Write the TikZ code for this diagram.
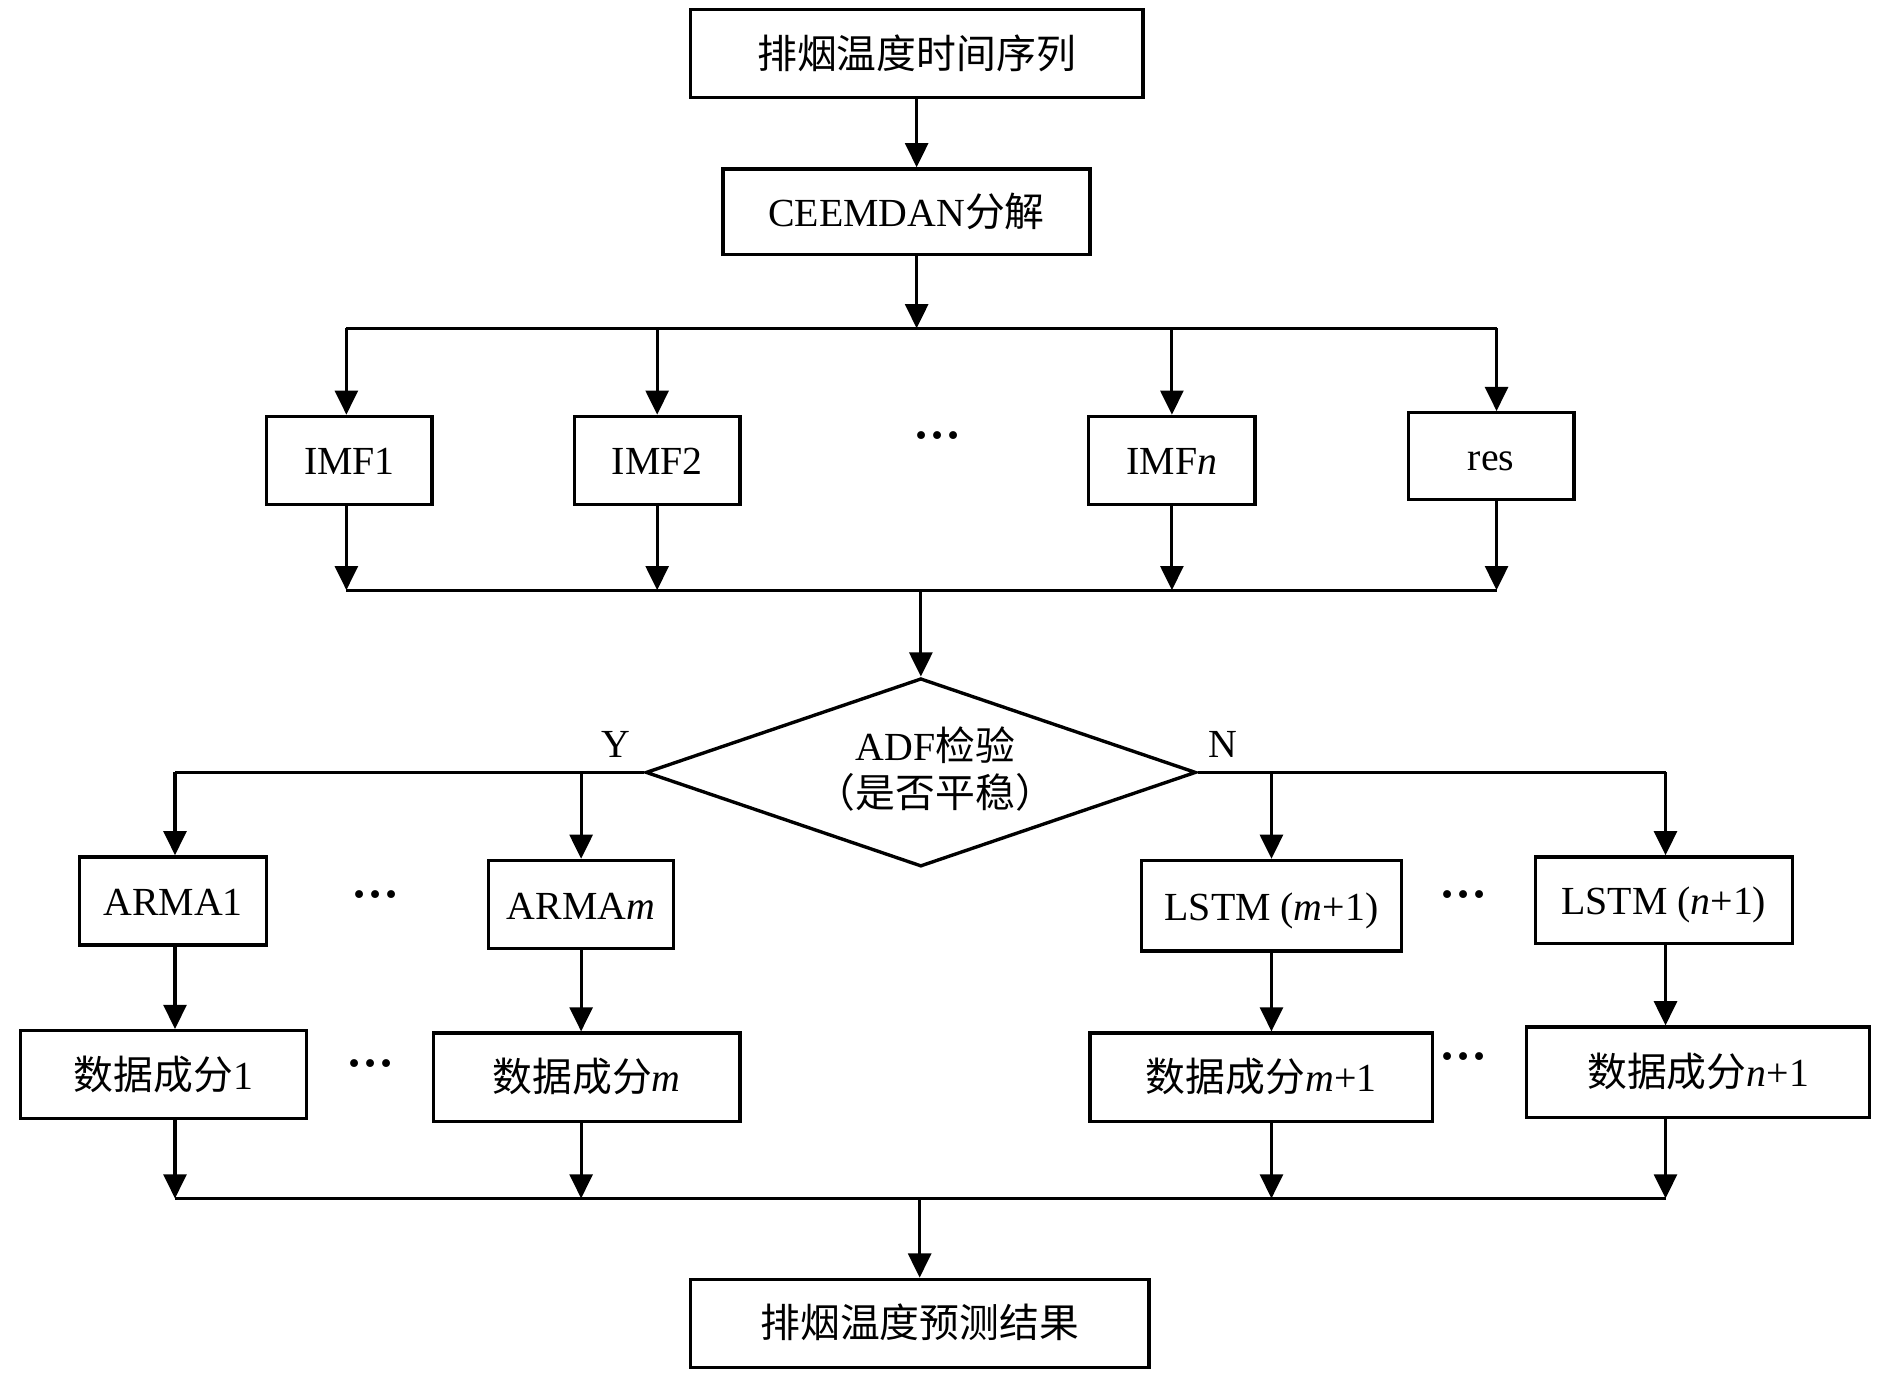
\documentclass[tikz,border=0pt]{standalone}
\usepackage{fontspec}
\setmainfont{Liberation Serif}
\newfontfamily\cjk{Noto Sans CJK SC}
\usetikzlibrary{shapes.geometric,arrows.meta}
\begin{document}
\begin{tikzpicture}[x=1pt,y=-1pt,
  every node/.style={font=\fontsize{33}{40}\selectfont},
  box/.style={draw,line width=2.8pt,inner sep=0pt,text height=26pt,text depth=2pt},
  conn/.style={line width=2.5pt},
  arr/.style={conn,-{Triangle[length=20pt,width=19pt]}},
  dots/.style={font=\fontsize{40}{40}\selectfont\bfseries}]
\useasboundingbox (0,0) rectangle (1566,1139);
% boxes
\node[box,minimum width=375pt,minimum height=73pt] (top) at (759.5,44.5) {\cjk 排烟温度时间序列};
\node[box,minimum width=304pt,minimum height=71pt] (ceem) at (751,175.5) {CEEMDAN{\cjk 分解}};
\node[box,minimum width=137pt,minimum height=73pt] (imf1) at (289.5,381.5) {IMF1};
\node[box,minimum width=137pt,minimum height=73pt] (imf2) at (544.5,381.5) {IMF2};
\node[box,minimum width=138pt,minimum height=73pt] (imfn) at (971,381.5) {IMF\textit{n}};
\node[box,minimum width=137pt,minimum height=72pt] (res) at (1235.5,378) {res};
\node[dots] (dotsA) at (777,366) {···};
\node[diamond,draw,line width=2.8pt,inner sep=0pt,minimum width=456pt,minimum height=156pt] (adf) at (763,640) {};
\node[align=center,inner sep=0pt] (adft) at (775,637) {ADF{\cjk 检验}\\[-1pt]{\cjk （是否平稳）}};
\node (ylab) at (510,617) {Y};
\node (nlab) at (1013,617) {N};
\node[box,minimum width=155pt,minimum height=73pt] (arma1) at (143.5,746.5) {ARMA1};
\node[box,minimum width=153pt,minimum height=73pt] (armam) at (481.5,749.5) {ARMA\textit{m}};
\node[box,minimum width=215pt,minimum height=75pt] (lstmA) at (1053.5,750.5) {LSTM (\textit{m}+1)};
\node[box,minimum width=213pt,minimum height=72pt] (lstmB) at (1378.5,746) {LSTM (\textit{n}+1)};
\node[dots] (dotsB) at (311,746) {···};
\node[dots] (dotsC) at (1213,746) {···};
\node[box,minimum width=237pt,minimum height=73pt] (d1) at (135.5,890.5) {{\cjk 数据成分}1};
\node[box,minimum width=254pt,minimum height=73pt] (dm) at (486,892.5) {{\cjk 数据成分}\textit{m}};
\node[box,minimum width=284pt,minimum height=73pt] (dA) at (1045,892.5) {{\cjk 数据成分}\textit{m}+1};
\node[box,minimum width=284pt,minimum height=75pt] (dB) at (1407,888.5) {{\cjk 数据成分}\textit{n}+1};
\node[dots] (dotsD) at (307,886) {···};
\node[dots] (dotsE) at (1213,880) {···};
\node[box,minimum width=380pt,minimum height=73pt] (out) at (762,1096.5) {\cjk 排烟温度预测结果};
% bus coordinates
\coordinate (b1L) at (287,272);
\coordinate (b1R) at (1240,272);
\coordinate (b2L) at (287,489);
\coordinate (b2R) at (1240,489);
\coordinate (b3L) at (145,993);
\coordinate (b3R) at (1380,993);
\coordinate (b2M) at (763,489);
\coordinate (b3M) at (762,993);
\coordinate (yL) at (145,640);
\coordinate (nR) at (1380,640);
% connectors
\draw[arr] (top.south) -- (top.south |- ceem.north);
\draw[arr] (top.south |- ceem.south) -- (top.south |- b1L);
\draw[conn] (b1L) -- (b1R);
\draw[arr] (b1L) -- (b1L |- imf1.north);
\draw[arr] (imf2.north |- b1L) -- (imf2.north);
\draw[arr] (imfn.north |- b1L) -- (imfn.north);
\draw[arr] (b1R) -- (b1R |- res.north);
\draw[arr] (b2L |- imf1.south) -- (b2L);
\draw[arr] (imf2.south) -- (imf2.south |- b2L);
\draw[arr] (imfn.south) -- (imfn.south |- b2L);
\draw[arr] (b2R |- res.south) -- (b2R);
\draw[conn] (b2L) -- (b2R);
\draw[arr] (b2M) -- (adf.north);
\draw[conn] (adf.west) -- (yL);
\draw[conn] (adf.east) -- (nR);
\draw[arr] (yL) -- (yL |- arma1.north);
\draw[arr] (armam.north |- yL) -- (armam.north);
\draw[arr] (lstmA.north |- nR) -- (lstmA.north);
\draw[arr] (nR) -- (nR |- lstmB.north);
\draw[arr] (arma1.south -| yL) -- (yL |- d1.north);
\draw[arr] (armam.south) -- (armam.south |- dm.north);
\draw[arr] (lstmA.south) -- (lstmA.south |- dA.north);
\draw[arr] (lstmB.south -| nR) -- (nR |- dB.north);
\draw[arr] (d1.south -| b3L) -- (b3L);
\draw[arr] (dm.south -| armam.south) -- (armam.south |- b3L);
\draw[arr] (dA.south -| lstmA.south) -- (lstmA.south |- b3L);
\draw[arr] (dB.south -| b3R) -- (b3R);
\draw[conn] (b3L) -- (b3R);
\draw[arr] (b3M) -- (out.north);
\end{tikzpicture}
\end{document}
